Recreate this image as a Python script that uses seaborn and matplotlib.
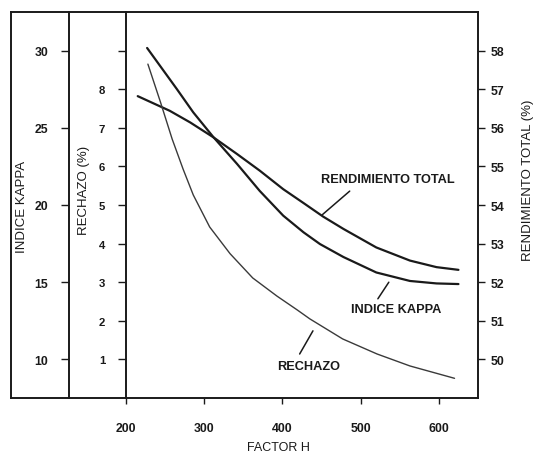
import seaborn as sns
import matplotlib.pyplot as plt

# valores
factor_h_rend = [215, 256, 282, 312, 342, 371, 401, 427, 452, 478, 520, 563, 597, 625]
rendimiento = [56.82, 56.44, 56.14, 55.75, 55.32, 54.89, 54.41, 54.05, 53.70, 53.38,
               52.90, 52.56, 52.39, 52.32]

factor_h_kappa = [227, 265, 286, 312, 342, 371, 401, 427, 448, 478, 520, 563, 597, 625]
kappa = [30.17, 27.51, 26.00, 24.38, 22.66, 20.91, 19.31, 18.23, 17.47, 16.63,
         15.63, 15.08, 14.92, 14.88]

factor_h_rech = [228, 244, 259, 273, 286, 307, 333, 362, 393, 419, 435, 477, 521, 563, 620]
rechazo = [8.65, 7.67, 6.71, 5.93, 5.26, 4.43, 3.74, 3.11, 2.64, 2.28, 2.05, 1.53,
           1.14, 0.83, 0.51]

x_ticks = [200, 300, 400, 500, 600]
kappa_ticks = [10, 15, 20, 25, 30]
rech_ticks = [1, 2, 3, 4, 5, 6, 7, 8, 9]
rech_labels = ['1', '2', '3', '4', '5', '6', '7', '8', '']
rend_ticks = [50, 51, 52, 53, 54, 55, 56, 57, 58]

sns.set_style("ticks")
plt.rcParams['font.family'] = ['Liberation Sans', 'DejaVu Sans']

fig = plt.figure(figsize=(5.39, 4.56), dpi=100)
ax = fig.add_axes([11 / 539, 1 - 399 / 456, 467 / 539, 386 / 456])
ax_k = ax.twinx()
ax_r = ax.twinx()

tinta = '#1a1a1a'

# rendimiento total, eje derecho
sns.lineplot(x=factor_h_rend, y=rendimiento, ax=ax, color=tinta, linewidth=1.6)
ax.set_xlim(53, 650)
ax.set_ylim(49, 59)
ax.yaxis.tick_right()
ax.yaxis.set_label_position('right')
ax.set_yticks(rend_ticks)
ax.set_xticks(x_ticks)
ax.set_ylabel('RENDIMIENTO TOTAL (%)', fontsize=9.5, color=tinta)
ax.yaxis.set_label_coords(1.094, 0.567)
ax.set_xlabel('FACTOR H', fontsize=9, color=tinta)
ax.xaxis.set_label_coords(0.572, -0.112)
ax.tick_params(axis='y', direction='out', length=5, width=1, pad=4, labelsize=8.8, colors=tinta)
ax.tick_params(axis='x', direction='out', length=4, width=1, pad=13, labelsize=8.8, colors=tinta)
for lab in ax.get_xticklabels() + ax.get_yticklabels():
    lab.set_fontweight('bold')
for s in ax.spines.values():
    s.set_linewidth(1.4)
    s.set_color(tinta)
    s.set_visible(True)

# indice kappa
sns.lineplot(x=factor_h_kappa, y=kappa, ax=ax_k, color=tinta, linewidth=1.6)
ax_k.set_ylim(7.5, 32.5)
ax_k.spines['left'].set_position(('data', 127))
ax_k.spines['left'].set_visible(True)
ax_k.spines['left'].set_linewidth(1.4)
ax_k.spines['left'].set_color(tinta)
for k in ['right', 'top', 'bottom']:
    ax_k.spines[k].set_visible(False)
ax_k.yaxis.tick_left()
ax_k.yaxis.set_label_position('left')
ax_k.set_yticks(kappa_ticks)
ax_k.set_ylabel('INDICE KAPPA', fontsize=9.5, color=tinta)
ax_k.yaxis.set_label_coords(0.037, 0.497)
ax_k.tick_params(axis='y', direction='out', length=6, width=1, pad=9, labelsize=8.8, colors=tinta)
for lab in ax_k.get_yticklabels():
    lab.set_fontweight('bold')

# rechazo
sns.lineplot(x=factor_h_rech, y=rechazo, ax=ax_r, color='#3a3a3a', linewidth=1.0)
ax_r.set_ylim(0, 10)
ax_r.spines['left'].set_position(('data', 200))
ax_r.spines['left'].set_visible(True)
ax_r.spines['left'].set_linewidth(1.4)
ax_r.spines['left'].set_color(tinta)
for k in ['right', 'top', 'bottom']:
    ax_r.spines[k].set_visible(False)
ax_r.yaxis.tick_left()
ax_r.yaxis.set_label_position('left')
ax_r.set_yticks(rech_ticks)
ax_r.set_yticklabels(rech_labels)
ax_r.set_ylabel('RECHAZO (%)', fontsize=9.5, color=tinta)
ax_r.yaxis.set_label_coords(0.169, 0.541)
ax_r.tick_params(axis='y', direction='out', length=6, width=1, pad=9, labelsize=8.2, colors=tinta)
for lab in ax_r.get_yticklabels():
    lab.set_fontweight('bold')

# rotulos de las curvas
flecha = dict(arrowstyle='-', color=tinta, linewidth=1.1, shrinkA=0, shrinkB=0)
ax.annotate('', xy=(450.5, 53.74), xytext=(486, 54.36), arrowprops=flecha)
ax.text(535, 54.67, 'RENDIMIENTO TOTAL', ha='center', va='center', fontsize=9.2,
        fontweight='bold', color=tinta)
ax.annotate('', xy=(536, 52.0), xytext=(522, 51.57), arrowprops=flecha)
ax.text(545, 51.31, 'INDICE KAPPA', ha='center', va='center', fontsize=9.2,
        fontweight='bold', color=tinta)
ax.annotate('', xy=(439, 50.74), xytext=(422, 50.14), arrowprops=flecha)
ax.text(434, 49.83, 'RECHAZO', ha='center', va='center', fontsize=9.2,
        fontweight='bold', color=tinta)

fig.savefig('out.png', dpi=100)
